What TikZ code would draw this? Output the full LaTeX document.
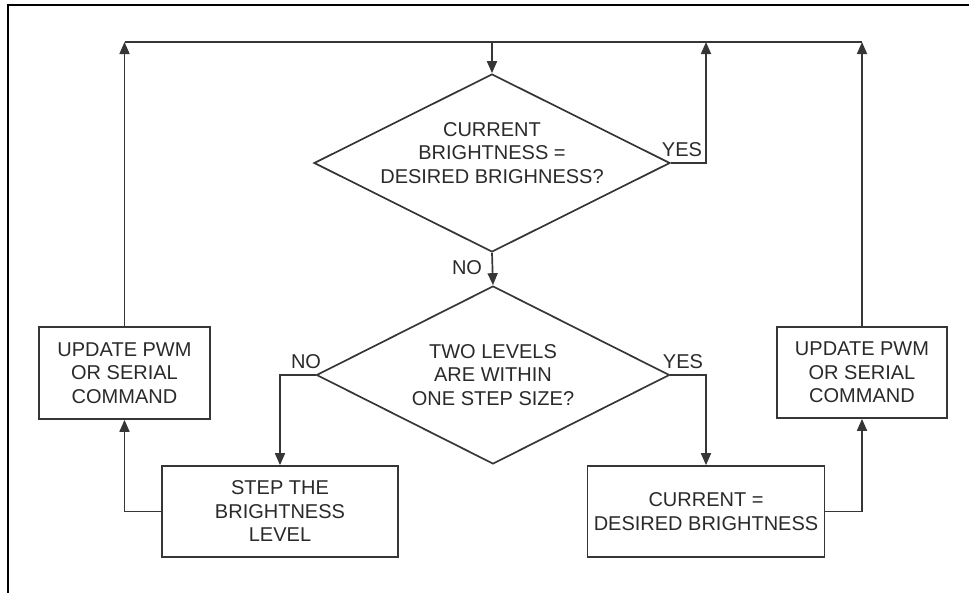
\documentclass[tikz,border=0pt]{standalone}
\usepackage{fontspec}
\setmainfont{Liberation Sans}
\usetikzlibrary{shapes.geometric,arrows.meta}
\definecolor{ln}{HTML}{363636}
\definecolor{tx}{HTML}{2A2A2A}
\tikzset{
  every node/.style={font=\fontsize{20}{23.5}\selectfont, text=tx},
  dec/.style={draw=ln, line width=1.7pt, diamond, inner sep=0pt, aspect=2},
  box/.style={draw=ln, line width=1.7pt, rectangle, inner sep=0pt, align=center},
  txt/.style={align=center, inner sep=0pt},
  lbl/.style={inner sep=0pt},
  con/.style={draw=ln, line width=1.7pt},
  arr/.style={con, -{Triangle[width=10pt,length=12pt]}},
}
\begin{document}
\begin{tikzpicture}[x=1pt,y=-1pt]
\useasboundingbox (0,0) rectangle (969,592);
\draw[line width=2pt, black] (8,600) -- (8,5) -- (975,5);
% decisions
\node[dec, minimum width=356pt, minimum height=178pt] (d1) at (492,163) {};
\node[txt] (d1t) at (492,153) {CURRENT\\BRIGHTNESS =\\DESIRED BRIGHNESS?};
\node[dec, minimum width=353pt, minimum height=178pt] (d2) at (493,375) {};
\node[txt] (d2t) at (493,375) {TWO LEVELS\\ARE WITHIN\\ONE STEP SIZE?};
% boxes
\node[box, minimum width=236pt, minimum height=91pt] (step) at (280,511.5) {STEP THE\\BRIGHTNESS\\LEVEL};
\node[box, minimum width=237pt, minimum height=91pt] (cur) at (706,511.5) {CURRENT =\\DESIRED BRIGHTNESS};
\node[box, minimum width=171pt, minimum height=92pt] (upl) at (124.5,373) {UPDATE PWM\\OR SERIAL\\COMMAND};
\node[box, minimum width=170pt, minimum height=91pt] (upr) at (862,372.5) {UPDATE PWM\\OR SERIAL\\COMMAND};
% coordinates on the top line
\coordinate (tl) at (124.5,42);
\coordinate (tr) at (862,42);
\coordinate (tm) at (492,42);
\coordinate (ty) at (706,42);
% labels
\node[lbl] (y1) at (682,150) {YES};
\node[lbl] (n1) at (467,268) {NO};
\node[lbl] (n2) at (306,362) {NO};
\node[lbl] (y2) at (683,362) {YES};
% connectors
\draw[con] (tl) -- (tr);
\draw[arr] (upl.north) -- (tl);
\draw[arr] (upr.north) -- (tr);
\draw[arr] (tm) -- (d1.north);
\draw[arr] (d1.east) -| (ty);
\draw[arr] (d1.south) -- (d2.north);
\draw[arr] (d2.west) -| (step.north);
\draw[arr] (d2.east) -| (cur.north);
\draw[arr] (step.west) -| (upl.south);
\draw[arr] (cur.east) -| (upr.south);
\end{tikzpicture}
\end{document}
